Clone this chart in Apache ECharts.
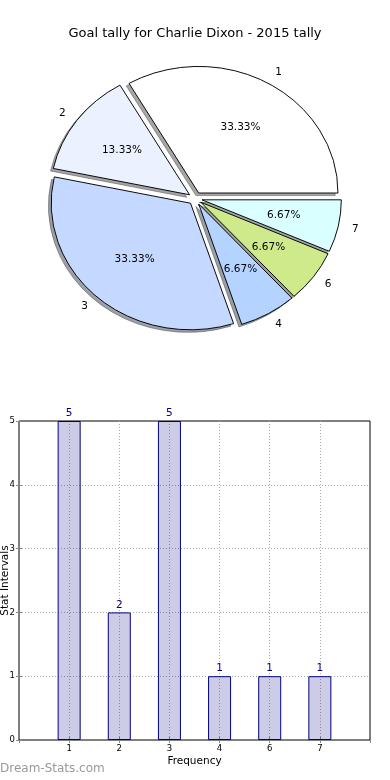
<!DOCTYPE html>
<html><head><meta charset="utf-8">
<script src="https://cdn.jsdelivr.net/npm/echarts@6/dist/echarts.min.js"></script>
<style>html,body{margin:0;padding:0;background:#fff}#c{width:390px;height:780px}</style>
</head><body><div id="c"></div>
<script>
const chartTitle = 'Goal tally for Charlie Dixon - 2015 tally';
const pieLabels = ['1', '2', '3', '4', '6', '7'];
const pieValues = [5, 2, 5, 1, 1, 1];
const pieColors = ['#ffffff', '#ebf1ff', '#c5d8ff', '#b4d4ff', '#cfea8b', '#daffff'];
const barCategories = ['1', '2', '3', '4', '6', '7'];
const barValues = [5, 2, 5, 1, 1, 1];
const yTicks = [0, 1, 2, 3, 4, 5];
const xAxisName = 'Frequency';
const yAxisName = 'Stat Intervals';
const watermark = 'Dream-Stats.com';

const FONT = 'DejaVu Sans';
const PIE = {cx: 195.2, cy: 198.5, rx: 139.3, ry: 126.6, explode: 0.05, shadow: 0.02, labelDist: 1.1, pctDist: 0.6};
const total = pieValues.reduce((a, b) => a + b, 0);
const cum = [0];
pieValues.forEach(v => cum.push(cum[cum.length - 1] + v));

function shade(hex) {
  const r = parseInt(hex.slice(1, 3), 16), g = parseInt(hex.slice(3, 5), 16), b = parseInt(hex.slice(5, 7), 16);
  return 'rgba(' + Math.round(r * 0.3) + ',' + Math.round(g * 0.3) + ',' + Math.round(b * 0.3) + ',0.5)';
}

function renderPie(params, api) {
  const i = params.dataIndex;
  const a0 = cum[i] / total * 2 * Math.PI, a1 = cum[i + 1] / total * 2 * Math.PI, m = (a0 + a1) / 2;
  const R = PIE.rx, sy = PIE.ry / PIE.rx;
  const ex = PIE.explode * R * Math.cos(m), ey = -PIE.explode * R * Math.sin(m);
  const shape = {cx: ex, cy: ey, r: R, r0: 0, startAngle: -a1, endAngle: -a0, clockwise: true};
  const shadowShape = Object.assign({}, shape, {cx: ex - PIE.shadow * R, cy: ey + PIE.shadow * R});
  const lx = PIE.cx + (PIE.explode + PIE.labelDist) * PIE.rx * Math.cos(m);
  const ly = PIE.cy - (PIE.explode + PIE.labelDist) * PIE.ry * Math.sin(m);
  const px = PIE.cx + (PIE.explode + PIE.pctDist) * PIE.rx * Math.cos(m);
  const py = PIE.cy - (PIE.explode + PIE.pctDist) * PIE.ry * Math.sin(m);
  const col = pieColors[i];
  const sh = shade(col);
  return {
    type: 'group',
    children: [
      {type: 'group', x: PIE.cx, y: PIE.cy, scaleY: sy, children: [
        {type: 'sector', z2: 0, shape: shadowShape, style: {fill: sh, stroke: sh, lineWidth: 1, strokeNoScale: true}},
        {type: 'sector', z2: 10, shape: shape, style: {fill: col, stroke: '#000', lineWidth: 1, strokeNoScale: true}}
      ]},
      {type: 'text', z2: 20, x: lx, y: ly, style: {text: pieLabels[i], align: Math.cos(m) > 0 ? 'left' : 'right', verticalAlign: 'middle', fontSize: 10.5, fontFamily: FONT, fill: '#000'}},
      {type: 'text', z2: 20, x: px, y: py, style: {text: (pieValues[i] / total * 100).toFixed(2) + '%', align: 'center', verticalAlign: 'middle', fontSize: 10.5, fontFamily: FONT, fill: '#000'}}
    ]
  };
}

const chart = echarts.init(document.getElementById('c'), null, {renderer: 'canvas'});
const tickStyle = {show: true, inside: true, length: 3, lineStyle: {color: '#888', width: 1}};
const option = {
  animation: false,
  backgroundColor: '#fff',
  textStyle: {fontFamily: FONT},
  title: {text: chartTitle, left: 'center', top: 22, textStyle: {fontSize: 13, fontWeight: 'normal', color: '#000', fontFamily: FONT}},
  graphic: [
    {type: 'text', left: 0, top: 763, style: {text: watermark, fontSize: 12, fill: '#999', fontFamily: FONT}}
  ],
  grid: {left: 19, right: 20, top: 421, bottom: 40, show: true, borderColor: '#000', borderWidth: 1,
    backgroundColor: 'transparent', containLabel: false, outerBoundsMode: 'none'},
  xAxis: [
    {type: 'value', min: 0, max: barCategories.length + 1, interval: 1, position: 'bottom',
      axisLine: {show: false}, axisTick: tickStyle,
      axisLabel: {fontSize: 8.5, color: '#000', margin: 4, showMinLabel: false, showMaxLabel: false,
        formatter: v => (v >= 1 && v <= barCategories.length) ? barCategories[v - 1] : ''},
      splitLine: {show: true, showMinLine: false, showMaxLine: false, lineStyle: {type: [1, 2], color: '#aaa', width: 1}},
      name: xAxisName, nameLocation: 'middle', nameGap: 16, nameMoveOverlap: false,
      nameTextStyle: {fontSize: 10.5, color: '#000'}},
    {type: 'value', min: 0, max: barCategories.length + 1, interval: 1, position: 'top',
      axisLine: {show: false}, axisTick: tickStyle, axisLabel: {show: false}, splitLine: {show: false}}
  ],
  yAxis: [
    {type: 'value', min: yTicks[0], max: yTicks[yTicks.length - 1], interval: 1, position: 'left',
      axisLine: {show: false}, axisTick: tickStyle,
      axisLabel: {fontSize: 8.5, color: '#000', margin: 4},
      splitLine: {show: true, showMinLine: false, showMaxLine: false, lineStyle: {type: [1, 2], color: '#aaa', width: 1}},
      name: yAxisName, nameLocation: 'middle', nameGap: 8, nameRotate: 90, nameMoveOverlap: false,
      nameTextStyle: {fontSize: 10.5, color: '#000'}},
    {type: 'value', min: yTicks[0], max: yTicks[yTicks.length - 1], interval: 1, position: 'right',
      axisLine: {show: false}, axisTick: tickStyle, axisLabel: {show: false}, splitLine: {show: false}}
  ],
  series: [
    {type: 'custom', coordinateSystem: 'none', renderItem: renderPie,
      data: pieValues.map((v, i) => ({name: pieLabels[i], value: v}))},
    {type: 'bar', xAxisIndex: 0, yAxisIndex: 0, barWidth: 23,
      data: barValues.map((v, i) => [i + 1, v]),
      itemStyle: {color: 'rgba(0,0,128,0.2)', borderColor: '#000080', borderWidth: 1},
      label: {show: true, position: 'top', distance: 2, color: '#000080', fontSize: 10.5, fontFamily: FONT,
        formatter: p => String(p.value[1])}}
  ]
};
chart.setOption(option);
</script></body></html>
